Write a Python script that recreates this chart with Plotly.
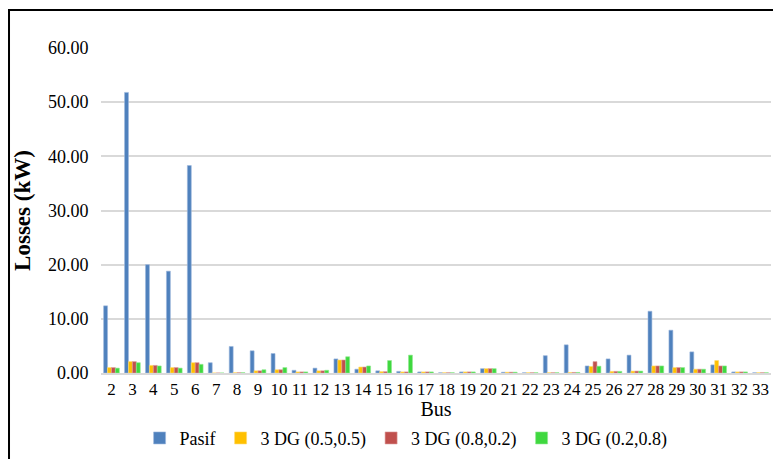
import plotly.graph_objects as go

bus = [str(b) for b in range(2, 34)]

pasif = [12.4, 51.8, 20.0, 18.8, 38.3, 1.9, 4.9, 4.1, 3.6, 0.5,
         0.9, 2.6, 0.7, 0.4, 0.3, 0.2, 0.05, 0.2, 0.8, 0.15,
         0.05, 3.2, 5.2, 1.3, 2.6, 3.3, 11.4, 7.9, 3.9, 1.5,
         0.2, 0.05]
dg_55 = [1.0, 2.1, 1.4, 1.0, 1.9, 0.0, 0.05, 0.4, 0.6, 0.2,
         0.4, 2.4, 1.1, 0.25, 0.2, 0.2, 0.05, 0.2, 0.8, 0.15,
         0.05, 0.05, 0.1, 1.2, 0.3, 0.35, 1.3, 1.0, 0.7, 2.3,
         0.2, 0.05]
dg_82 = [1.0, 2.1, 1.4, 1.0, 1.9, 0.0, 0.05, 0.4, 0.6, 0.2,
         0.4, 2.4, 1.1, 0.25, 0.2, 0.2, 0.05, 0.2, 0.8, 0.15,
         0.05, 0.05, 0.1, 2.1, 0.3, 0.35, 1.3, 1.0, 0.7, 1.3,
         0.2, 0.05]
dg_28 = [0.9, 1.9, 1.3, 0.9, 1.6, 0.0, 0.05, 0.6, 1.0, 0.2,
         0.5, 3.0, 1.3, 2.3, 3.3, 0.2, 0.05, 0.2, 0.8, 0.15,
         0.05, 0.05, 0.1, 1.25, 0.3, 0.35, 1.3, 1.0, 0.7, 1.3,
         0.2, 0.05]

series = [
    ("Pasif", pasif, "#4F81BD", "#9DB9DE"),
    ("3 DG (0.5,0.5)", dg_55, "#FFC000", "#FFDA70"),
    ("3 DG (0.8,0.2)", dg_82, "#C0504D", "#DC9A98"),
    ("3 DG (0.2,0.8)", dg_28, "#3FD83F", "#8FEA8F"),
]

fig = go.Figure()
for name, vals, col, edge in series:
    fig.add_bar(x=bus, y=vals, name=name,
                marker=dict(color=col, line=dict(color=edge, width=0.6)))

# page body has an 8px margin, so the figure is 8px smaller than the window
font = "Times New Roman, Liberation Serif, serif"
fig.update_layout(
    width=773, height=451,
    barmode="group", bargap=0.25, bargroupgap=0,
    plot_bgcolor="white", paper_bgcolor="white",
    margin=dict(l=93, r=10, t=40, b=86, autoexpand=False),
    font=dict(family=font, size=16, color="black"),
    legend=dict(orientation="h", x=0.515, xanchor="center", xref="container",
                y=0.005, yanchor="bottom", yref="container",
                font=dict(family=font, size=18), traceorder="normal",
                itemwidth=30, tracegroupgap=0),
    xaxis=dict(title=dict(text="Bus", font=dict(family=font, size=20), standoff=2),
               tickfont=dict(family=font, size=17), showline=True,
               linecolor="#D9D9D9", linewidth=2, ticks=""),
    yaxis=dict(title=dict(text="<b>Losses (kW)</b>", font=dict(family=font, size=23),
                          standoff=10),
               range=[0, 60], dtick=10, tickformat=".2f",
               tickfont=dict(family=font, size=18), gridcolor="#D9D9D9", gridwidth=2,
               zeroline=False, ticks="outside", ticklen=8,
               tickcolor="white"),
    shapes=[dict(type="rect", xref="paper", yref="paper",
                 x0=-0.1373, x1=1.2, y0=-0.5, y1=1.117,
                 line=dict(color="black", width=2))],
)

fig.write_html("out.html")
